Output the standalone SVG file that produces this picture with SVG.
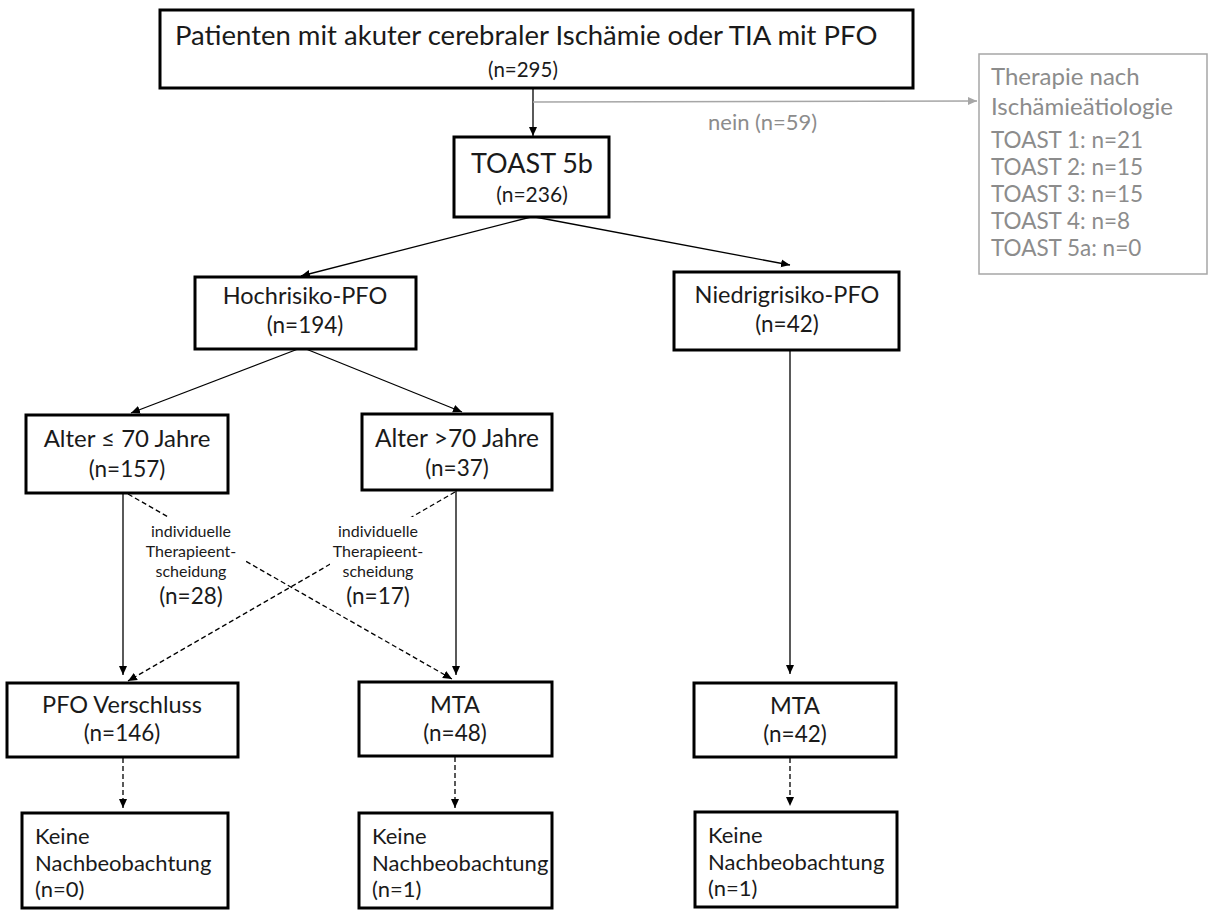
<svg xmlns="http://www.w3.org/2000/svg" width="1208" height="911" viewBox="0 0 1208 911">
<style>
.box{fill:#fff;stroke:#000;stroke-width:3}
.gbox{fill:#fff;stroke:#a6a6a6;stroke-width:1.5}
text{font-family:Lato,"Liberation Sans",sans-serif;fill:#1a1a1a}
.c{text-anchor:middle}
.l{font-size:23.5px}
.n{font-size:22.5px}
.k{font-size:22px}
.g{fill:#8c8c8c}
.gh{font-size:24px}
.gt{font-size:22.5px}
.sm{font-size:16px}
.ln{stroke:#000;stroke-width:1.3;fill:none}
.dash{stroke:#000;stroke-width:1.3;fill:none;stroke-dasharray:5 3}
.gl{stroke:#a6a6a6;stroke-width:1.5;fill:none}
.lab{fill:#fff;stroke:none}
</style>
<defs>
<marker id="ah" markerUnits="userSpaceOnUse" markerWidth="10" markerHeight="10" viewBox="0 0 10 10" refX="9" refY="5" orient="auto">
<path d="M0,1 L9,5 L0,9 Z" fill="#000"/>
</marker>
<marker id="gah" markerUnits="userSpaceOnUse" markerWidth="10" markerHeight="10" viewBox="0 0 10 10" refX="9" refY="5" orient="auto">
<path d="M0,1 L9,5 L0,9 Z" fill="#a6a6a6"/>
</marker>
</defs>

<g id="connectors">
<line class="ln" x1="533" y1="88" x2="533" y2="136" marker-end="url(#ah)"/>
<line class="gl" x1="533" y1="102" x2="977" y2="101" marker-end="url(#gah)"/>
<line class="ln" x1="531" y1="217" x2="301" y2="276" marker-end="url(#ah)"/>
<line class="ln" x1="535" y1="217" x2="790" y2="265" marker-end="url(#ah)"/>
<line class="ln" x1="298" y1="349" x2="131" y2="413" marker-end="url(#ah)"/>
<line class="ln" x1="306" y1="349" x2="462" y2="412" marker-end="url(#ah)"/>
<line class="ln" x1="123" y1="493" x2="123" y2="675" marker-end="url(#ah)"/>
<line class="ln" x1="456" y1="490" x2="456" y2="675" marker-end="url(#ah)"/>
<line class="ln" x1="790" y1="350" x2="790" y2="674" marker-end="url(#ah)"/>
<line class="dash" x1="128" y1="494" x2="452" y2="679" marker-end="url(#ah)"/>
<line class="dash" x1="455" y1="492" x2="128" y2="681" marker-end="url(#ah)"/>
<line class="dash" x1="123" y1="758" x2="123" y2="808" marker-end="url(#ah)"/>
<line class="dash" x1="455" y1="757" x2="455" y2="808" marker-end="url(#ah)"/>
<line class="dash" x1="790" y1="758" x2="790" y2="806" marker-end="url(#ah)"/>
</g>

<g id="label-left">
<rect class="lab" x="146" y="517" width="100" height="50"/>
<text class="c sm" x="191" y="537">individuelle</text>
<text class="c sm" x="191" y="557">Therapieent-</text>
<text class="c sm" x="191" y="577">scheidung</text>
<text class="c n" x="191" y="604">(n=28)</text>
</g>
<g id="label-right">
<rect class="lab" x="330" y="517" width="96" height="50"/>
<text class="c sm" x="378" y="537">individuelle</text>
<text class="c sm" x="378" y="557">Therapieent-</text>
<text class="c sm" x="378" y="577">scheidung</text>
<text class="c n" x="378" y="604">(n=17)</text>
</g>

<g id="n-start">
<rect class="box" x="160" y="10" width="753" height="78"/>
<text x="175" y="45" style="font-size:27.5px">Patienten mit akuter cerebraler Ischämie oder TIA mit PFO</text>
<text class="c" x="523" y="77" style="font-size:20.5px">(n=295)</text>
</g>
<g id="nein-label">
<text class="g" x="708" y="130" style="font-size:22px">nein (n=59)</text>
</g>
<g id="n-other">
<rect class="gbox" x="979" y="54" width="228" height="220"/>
<text class="g gh" x="991" y="85">Therapie nach</text>
<text class="g gh" x="991" y="115">Ischämieätiologie</text>
<text class="g gt" x="991" y="148">TOAST 1: n=21</text>
<text class="g gt" x="991" y="175">TOAST 2: n=15</text>
<text class="g gt" x="991" y="202">TOAST 3: n=15</text>
<text class="g gt" x="991" y="229">TOAST 4: n=8</text>
<text class="g gt" x="991" y="256">TOAST 5a: n=0</text>
</g>
<g id="n-toast">
<rect class="box" x="454" y="137" width="155" height="80"/>
<text class="c" x="532" y="173" style="font-size:27px">TOAST 5b</text>
<text class="c" x="532" y="202" style="font-size:21px">(n=236)</text>
</g>
<g id="n-hoch">
<rect class="box" x="195" y="277" width="221" height="72"/>
<text class="c l" x="305" y="304">Hochrisiko-PFO</text>
<text class="c n" x="305" y="333">(n=194)</text>
</g>
<g id="n-nied">
<rect class="box" x="674" y="272" width="225" height="78"/>
<text class="c l" x="787" y="303">Niedrigrisiko-PFO</text>
<text class="c n" x="787" y="332">(n=42)</text>
</g>
<g id="n-alt1">
<rect class="box" x="26" y="415" width="202" height="78"/>
<text class="c" x="127" y="447" style="font-size:24px">Alter ≤ 70 Jahre</text>
<text class="c n" x="127" y="477">(n=157)</text>
</g>
<g id="n-alt2">
<rect class="box" x="362" y="414" width="190" height="76"/>
<text class="c" x="457" y="447" style="font-size:24.5px">Alter &gt;70 Jahre</text>
<text class="c n" x="457" y="476">(n=37)</text>
</g>
<g id="n-pfo">
<rect class="box" x="7" y="683" width="231" height="74"/>
<text class="c l" x="122" y="713">PFO Verschluss</text>
<text class="c n" x="122" y="741">(n=146)</text>
</g>
<g id="n-mta1">
<rect class="box" x="359" y="682" width="193" height="74"/>
<text class="c l" x="455" y="713">MTA</text>
<text class="c n" x="455" y="741">(n=48)</text>
</g>
<g id="n-mta2">
<rect class="box" x="694" y="683" width="202" height="74"/>
<text class="c l" x="795" y="714">MTA</text>
<text class="c n" x="795" y="742">(n=42)</text>
</g>
<g id="n-keine1">
<rect class="box" x="22" y="813" width="206" height="95"/>
<text class="k" x="35" y="844">Keine</text>
<text class="k" x="35" y="871">Nachbeobachtung</text>
<text class="k" x="35" y="897">(n=0)</text>
</g>
<g id="n-keine2">
<rect class="box" x="359" y="813" width="193" height="95"/>
<text class="k" x="372" y="844">Keine</text>
<text class="k" x="372" y="871">Nachbeobachtung</text>
<text class="k" x="372" y="897">(n=1)</text>
</g>
<g id="n-keine3">
<rect class="box" x="695" y="812" width="202" height="95"/>
<text class="k" x="708" y="843">Keine</text>
<text class="k" x="708" y="870">Nachbeobachtung</text>
<text class="k" x="708" y="896">(n=1)</text>
</g>
</svg>
